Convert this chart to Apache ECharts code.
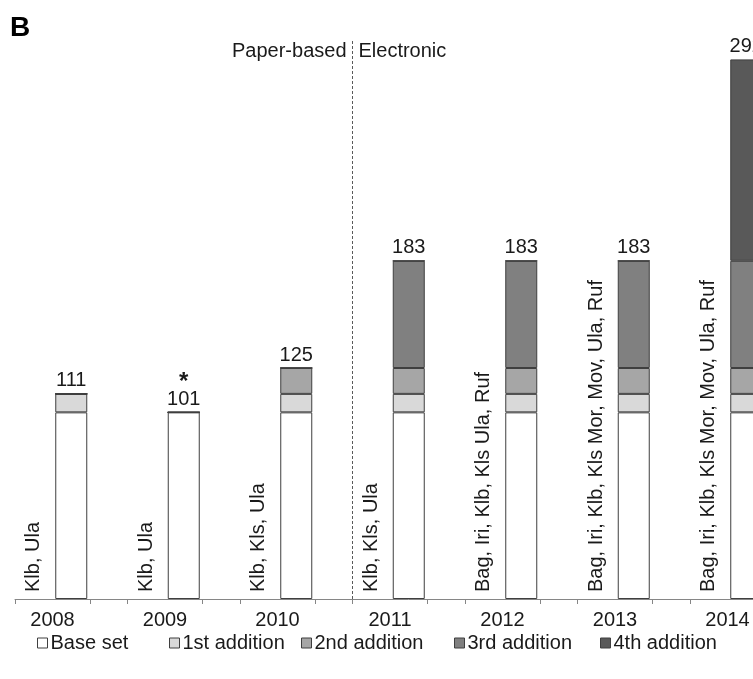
<!DOCTYPE html>
<html>
<head>
<meta charset="utf-8">
<script src="https://cdn.jsdelivr.net/npm/echarts@6/dist/echarts.min.js"></script>
<style>
  html, body { margin: 0; padding: 0; overflow: hidden; background: #fff; width: 753px; height: 679px; }
  #chart { position: absolute; left: 0; top: 0; width: 830px; height: 679px; }
</style>
</head>
<body>
<div id="chart"></div>
<script>
// Number of taxa per annual checklist, broken down by addition round
const years = ['2008', '2009', '2010', '2011', '2012', '2013', '2014'];
const baseSet   = [101, 101, 101, 101, 101, 101, 101];
const addition1 = [10, 0, 10, 10, 10, 10, 10];
const addition2 = [0, 0, 14, 14, 14, 14, 14];
const addition3 = [0, 0, 0, 58, 58, 58, 58];
const addition4 = [0, 0, 0, 0, 0, 0, 109];
const sources = [
  'Klb, Ula',
  'Klb, Ula',
  'Klb, Kls, Ula',
  'Klb, Kls, Ula',
  'Bag, Iri, Klb, Kls Ula, Ruf',
  'Bag, Iri, Klb, Kls Mor, Mov, Ula, Ruf',
  'Bag, Iri, Klb, Kls Mor, Mov, Ula, Ruf'
];
const notes = ['', '*', '', '', '', '', ''];
const seriesNames = ['Base set', '1st addition', '2nd addition', '3rd addition', '4th addition'];
const periodLabels = ['Paper-based', 'Electronic'];
const periodSplitYear = '2011';

// Each year occupies three slots: source label, stacked bar, spacer
const SLOTS = 3;
const slotCount = years.length * SLOTS;
const slotNames = Array.from({ length: slotCount }, (_, i) => 's' + i);

function toSlots(values, offset) {
  const out = new Array(slotCount).fill('-');
  values.forEach((v, k) => { out[k * SLOTS + offset] = v; });
  return out;
}

const totals = years.map((_, k) => baseSet[k] + addition1[k] + addition2[k] + addition3[k] + addition4[k]);

const FONT = 'Liberation Sans, Arial, sans-serif';
const FS = 20;
const TXT = '#1a1a1a';
const EDGE = '#3f3f3f';
const fills = ['#ffffff', '#d9d9d9', '#a6a6a6', '#808080', '#595959'];
const segments = [baseSet, addition1, addition2, addition3, addition4];

const series = segments.map((vals, i) => ({
  name: seriesNames[i],
  type: 'bar',
  stack: 'total',
  xAxisIndex: 0,
  barWidth: 32,
  data: toSlots(vals, 1),
  itemStyle: { color: fills[i], borderColor: EDGE, borderWidth: 1 },
  emphasis: { disabled: true },
  animation: false
}));

// Rotated source labels next to each bar
series.push({
  name: 'sources',
  type: 'bar',
  stack: 'total',
  xAxisIndex: 0,
  barWidth: 32,
  data: toSlots(years.map(() => 0), 0),
  itemStyle: { color: 'rgba(0,0,0,0)', borderWidth: 0 },
  label: {
    show: true,
    position: 'insideBottom',
    distance: 7,
    rotate: 90,
    align: 'left',
    verticalAlign: 'middle',
    fontFamily: FONT,
    fontSize: FS,
    color: TXT,
    formatter: p => sources[Math.floor(p.dataIndex / SLOTS)]
  },
  emphasis: { disabled: true },
  animation: false
});

// Total count above each stacked bar
series.push({
  name: 'totals',
  type: 'bar',
  stack: 'total',
  xAxisIndex: 0,
  barWidth: 32,
  data: toSlots(years.map(() => 0), 1),
  itemStyle: { color: 'rgba(0,0,0,0)', borderWidth: 0 },
  label: {
    show: true,
    position: 'top',
    distance: 3,
    fontFamily: FONT,
    fontSize: FS,
    color: TXT,
    formatter: p => {
      const k = Math.floor(p.dataIndex / SLOTS);
      return notes[k] ? '{note|' + notes[k] + '}\n' + totals[k] : String(totals[k]);
    },
    rich: {
      note: { fontFamily: FONT, fontSize: 24, fontWeight: 'bold', color: TXT, lineHeight: 20, padding: [0, 0, -6, 0] }
    }
  },
  emphasis: { disabled: true },
  animation: false
});

// Divider between paper-based and electronic checklists
const splitValue = years.indexOf(periodSplitYear) * SLOTS;
series.push({
  name: 'divider',
  type: 'line',
  xAxisIndex: 1,
  data: [[splitValue, 0]],
  symbol: 'none',
  lineStyle: { opacity: 0 },
  markLine: {
    silent: true,
    symbol: 'none',
    label: { show: false },
    lineStyle: { type: [3, 2], color: '#595959', width: 1 },
    data: [{ xAxis: splitValue }]
  },
  animation: false
});

const tickValues = [];
const labelValues = [];
for (let k = 0; k < years.length; k++) {
  tickValues.push(k * SLOTS, k * SLOTS + 2);
  labelValues.push(k * SLOTS + 1);
}

// One legend block per entry so each sits at its own offset along the bottom row
const legendLefts = [32, 164, 296, 449, 595];
const legends = seriesNames.map((name, i) => ({
  data: [name],
  left: legendLefts[i],
  top: 628,
  icon: 'rect',
  itemWidth: 10,
  itemHeight: 10,
  selectedMode: false,
  itemStyle: { borderColor: EDGE, borderWidth: 1 },
  textStyle: { fontFamily: FONT, fontSize: FS, color: TXT, padding: [0, 0, 0, -2] }
}));

const chart = echarts.init(document.getElementById('chart'), null, { renderer: 'canvas' });
chart.setOption({
  animation: false,
  backgroundColor: '#fff',
  grid: { left: 15, right: 830 - 15 - slotCount * 37.5, top: 40, bottom: 80, containLabel: false },
  xAxis: [
    {
      type: 'category',
      data: slotNames,
      boundaryGap: true,
      show: false
    },
    {
      type: 'value',
      min: 0,
      max: slotCount,
      position: 'bottom',
      axisLine: { show: true, lineStyle: { color: '#868686', width: 1 } },
      axisTick: { show: true, inside: false, length: 5, customValues: tickValues, lineStyle: { color: '#868686' } },
      axisLabel: {
        show: true,
        customValues: labelValues,
        margin: 11,
        fontFamily: FONT,
        fontSize: FS,
        color: TXT,
        formatter: v => years[Math.round((v - 1) / SLOTS)]
      },
      splitLine: { show: false }
    }
  ],
  yAxis: { type: 'value', min: 0, max: 302.5, show: false, splitLine: { show: false } },
  legend: legends,
  series: series
});

// Panel letter and period captions either side of the divider
const divX = chart.convertToPixel({ xAxisIndex: 1 }, splitValue);
chart.setOption({
  graphic: [
    { type: 'text', left: 10, top: 14, style: { text: 'B', fontFamily: FONT, fontSize: 28, fontWeight: 'bold', fill: '#000' } },
    { type: 'text', x: divX - 6, y: 51, style: { text: periodLabels[0], fontFamily: FONT, fontSize: FS, fill: TXT, align: 'right', verticalAlign: 'middle' } },
    { type: 'text', x: divX + 6, y: 51, style: { text: periodLabels[1], fontFamily: FONT, fontSize: FS, fill: TXT, align: 'left', verticalAlign: 'middle' } }
  ]
});
</script>
</body>
</html>
